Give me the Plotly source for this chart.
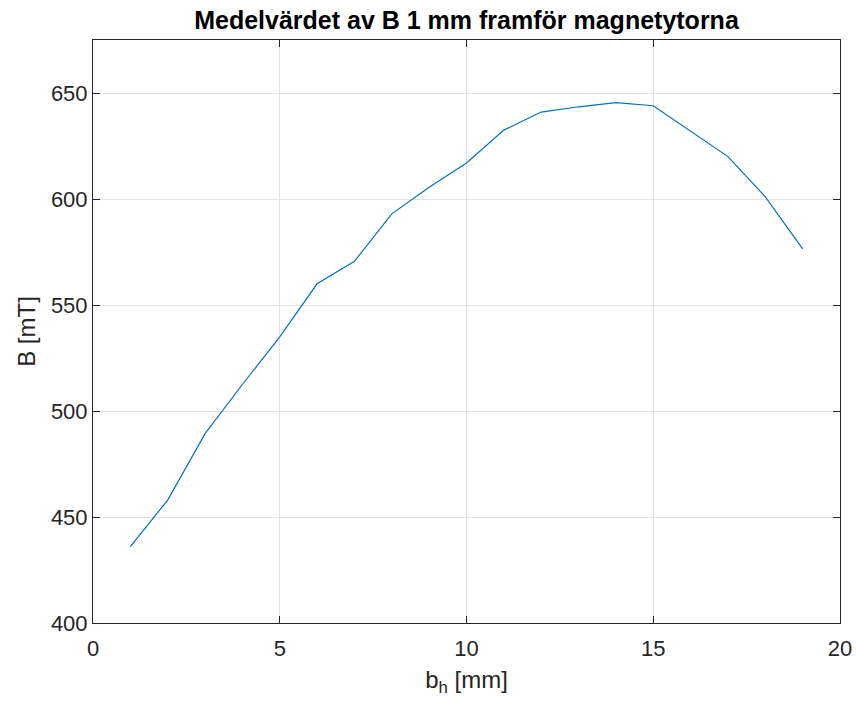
import plotly.graph_objects as go

b_h = [1, 2, 3, 4, 5, 6, 7, 8, 9, 10, 11, 12, 13, 14, 15, 16, 17, 18, 19]
B_mT = [436, 458, 489.3, 512.5, 535, 560, 570.6, 593, 605.5, 617, 632.5, 641, 643.5, 645.5, 644, 632, 620, 601, 576.5]

x_ticks = [0, 5, 10, 15, 20]
y_ticks = [400, 450, 500, 550, 600, 650]

FONT = "Liberation Sans, Arial, Helvetica, sans-serif"

fig = go.Figure()
fig.add_trace(go.Scatter(x=b_h, y=B_mT, mode="lines",
                         line=dict(color="#0072BD", width=1.2), showlegend=False))

axis_common = dict(
    showgrid=True, gridcolor="#e3e3e3", gridwidth=1,
    showline=True, linecolor="#262626", linewidth=1, mirror="ticks",
    ticks="inside", ticklen=7, tickcolor="#262626", tickwidth=1,
    zeroline=False, automargin=False,
    tickfont=dict(family=FONT, size=22, color="#262626"),
)

fig.update_xaxes(range=[0, 20], tickvals=x_ticks, ticklabelstandoff=6,
                 title=dict(text="b<sub>h</sub> [mm]", standoff=10,
                            font=dict(family=FONT, size=24, color="#262626")),
                 **axis_common)
fig.update_yaxes(range=[400, 675], tickvals=y_ticks,
                 title=dict(text="B [mT]", standoff=8,
                            font=dict(family=FONT, size=24, color="#262626")),
                 **axis_common)

fig.update_layout(
    width=856, height=702,
    margin=dict(l=93, r=16, t=40, b=79),
    paper_bgcolor="white", plot_bgcolor="white",
    title=dict(text="<b>Medelvärdet av B 1 mm framför magnetytorna</b>",
               x=(93 + 840) / 2 / 856, xanchor="center", y=1 - 20 / 702, yanchor="middle",
               font=dict(family=FONT, size=25, color="black")),
)

fig.write_html("out.html")
